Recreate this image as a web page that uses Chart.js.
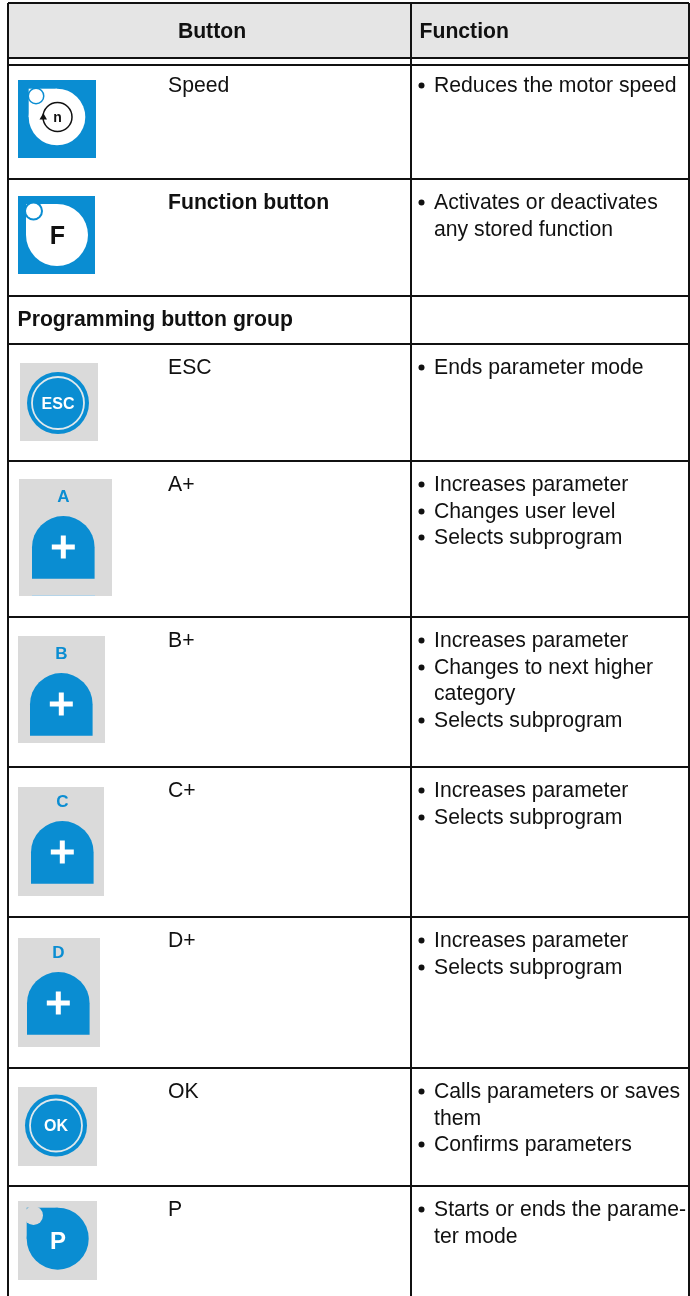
<!DOCTYPE html>
<html>
<head>
<meta charset="utf-8">
<script src="https://cdn.jsdelivr.net/npm/chart.js@4"></script>
<style>
    html, body { margin: 0; padding: 0; background: #fff; }
    canvas { display: block; }
</style>
</head>
<body>
<canvas id="table" width="690" height="1296"></canvas>
<script>
// table content
const headers = ['Button', 'Function'];
const buttons = ['Speed', 'Function button', 'Programming button group', 'ESC', 'A+', 'B+', 'C+', 'D+', 'OK', 'P'];
const functions = [
    ['• Reduces the motor speed'],
    ['• Activates or deactivates', '  any stored function'],
    [],
    ['• Ends parameter mode'],
    ['• Increases parameter', '• Changes user level', '• Selects subprogram'],
    ['• Increases parameter', '• Changes to next higher', '  category', '• Selects subprogram'],
    ['• Increases parameter', '• Selects subprogram'],
    ['• Increases parameter', '• Selects subprogram'],
    ['• Calls parameters or saves', '  them', '• Confirms parameters'],
    ['• Starts or ends the parame-', '  ter mode']
];
const columnLines = [8, 411, 689];
const rowLines = [3, 58, 65, 179, 296, 344, 461, 617, 767, 917, 1068, 1186];

const BLUE = '#0a8dd2';
const GREY = '#dadada';
const FONT = '"Liberation Sans", Arial, sans-serif';
const TEXT_SIZE = 21.2;

function text(ctx, str, x, y, size, bold, color, align) {
    ctx.font = `${bold ? 'bold ' : ''}${size}px ${FONT}`;
    ctx.fillStyle = color || '#111';
    ctx.textAlign = align || 'left';
    ctx.textBaseline = 'alphabetic';
    ctx.fillText(str, x, y);
}

function box(ctx, x1, y1, x2, y2, color) {
    ctx.fillStyle = color;
    ctx.fillRect(x1, y1, x2 - x1, y2 - y1);
}

function circle(ctx, x, y, r, color) {
    ctx.fillStyle = color;
    ctx.beginPath();
    ctx.arc(x, y, r, 0, Math.PI * 2);
    ctx.fill();
}

// round button with one square corner
function drop(ctx, x, y, r, color) {
    circle(ctx, x, y, r, color);
    ctx.fillRect(x - r, y - r, r, r);
}

function ringButton(ctx, x, y, label, size) {
    circle(ctx, x, y, 31, BLUE);
    ctx.strokeStyle = '#dfe8ec';
    ctx.lineWidth = 1.8;
    ctx.beginPath();
    ctx.arc(x, y, 26, 0, Math.PI * 2);
    ctx.stroke();
    text(ctx, label, x, y + size * 0.36, size, true, '#fff', 'center');
}

function plusButton(ctx, g, letter) {
    box(ctx, g.x1, g.y1, g.x2, g.y2, GREY);
    const r = 31.3, cx = g.dome + r, top = g.top;
    ctx.fillStyle = BLUE;
    ctx.beginPath();
    ctx.moveTo(cx - r, top + 62.7);
    ctx.lineTo(cx - r, top + r);
    ctx.arc(cx, top + r, r, Math.PI, 0);
    ctx.lineTo(cx + r, top + 62.7);
    ctx.closePath();
    ctx.fill();
    box(ctx, cx - 11.5, top + 28.5, cx + 11.5, top + 33.5, '#fff');
    box(ctx, cx - 2.5, top + 19.5, cx + 2.5, top + 42.5, '#fff');
    text(ctx, letter, cx, top - 14, 17, true, BLUE, 'center');
}

const tablePlugin = {
    id: 'tablePlugin',
    beforeDraw(chart) {
        const { ctx } = chart;
        box(ctx, 8, rowLines[0], 689, rowLines[1], '#e5e5e5');
    },
    afterDraw(chart) {
        const { ctx } = chart;
        const colX = [168, 434];

        // header
        text(ctx, headers[0], 212, 38, TEXT_SIZE, true, '#111', 'center');
        text(ctx, headers[1], 419.5, 38, TEXT_SIZE, true);

        // body rows, rowLines[2] is where they start
        buttons.forEach((label, i) => {
            const top = rowLines[i + 2];
            const base = top + (i === 0 ? 27 : 30);
            if (i === 1) {
                text(ctx, label, colX[0], base, TEXT_SIZE, true);
            } else if (i === 2) {
                text(ctx, label, 17.5, base, TEXT_SIZE, true);
            } else {
                text(ctx, label, colX[0], base, TEXT_SIZE, false);
            }
            functions[i].forEach((line, n) => {
                const y = Math.round(base + n * 26.6);
                if (line.startsWith('• ')) {
                    circle(ctx, 421.5, y - 6.5, 3, '#111');
                }
                text(ctx, line.slice(2), colX[1], y, TEXT_SIZE, false);
            });
        });

        // Speed
        box(ctx, 18, 80, 96, 158, BLUE);
        drop(ctx, 57, 117, 28.3, '#fff');
        circle(ctx, 36, 96, 8.5, BLUE);
        circle(ctx, 36, 96, 7, '#fff');
        ctx.strokeStyle = '#111';
        ctx.lineWidth = 1.5;
        ctx.beginPath();
        ctx.arc(57.5, 117, 14.5, 0, Math.PI * 2);
        ctx.stroke();
        ctx.fillStyle = '#111';
        ctx.beginPath();
        ctx.moveTo(43.3, 113);
        ctx.lineTo(47, 119.5);
        ctx.lineTo(39.5, 119.5);
        ctx.closePath();
        ctx.fill();
        text(ctx, 'n', 57.5, 122, 14, true, '#111', 'center');

        // Function
        box(ctx, 18, 196, 95, 274, BLUE);
        drop(ctx, 57, 235, 31, '#fff');
        circle(ctx, 33.5, 211, 9.5, BLUE);
        circle(ctx, 33.5, 211, 7.5, '#fff');
        text(ctx, 'F', 57.5, 244, 25, true, '#111', 'center');

        // ESC
        box(ctx, 20, 363, 98, 441, GREY);
        ringButton(ctx, 58, 403, 'ESC', 16);

        plusButton(ctx, { x1: 19, y1: 479, x2: 112, y2: 596, dome: 32, top: 516 }, 'A');
        box(ctx, 32, 595, 95, 596, '#b5d4e8');
        plusButton(ctx, { x1: 18, y1: 636, x2: 105, y2: 743, dome: 30, top: 673 }, 'B');
        plusButton(ctx, { x1: 18, y1: 787, x2: 104, y2: 896, dome: 31, top: 821 }, 'C');
        plusButton(ctx, { x1: 18, y1: 938, x2: 100, y2: 1047, dome: 27, top: 972 }, 'D');

        // OK
        box(ctx, 18, 1087, 97, 1166, GREY);
        ringButton(ctx, 56, 1125.5, 'OK', 16);

        // P
        box(ctx, 18, 1201, 97, 1280, GREY);
        drop(ctx, 57.7, 1238.7, 31, BLUE);
        circle(ctx, 33.5, 1215.5, 9.5, GREY);
        text(ctx, 'P', 58, 1249, 24, true, '#fff', 'center');
    }
};

new Chart(document.getElementById('table'), {
    type: 'scatter',
    data: { datasets: [{ data: [], pointRadius: 0 }] },
    plugins: [tablePlugin],
    options: {
        responsive: false,
        animation: false,
        layout: { padding: { left: columnLines[0], right: 690 - columnLines[2], top: rowLines[0], bottom: 0 } },
        plugins: { legend: { display: false }, tooltip: { enabled: false } },
        scales: {
            x: {
                type: 'linear',
                position: 'top',
                min: columnLines[0],
                max: columnLines[2],
                afterBuildTicks: (axis) => { axis.ticks = columnLines.map((value) => ({ value })); },
                ticks: { display: false },
                border: { display: false },
                grid: { color: '#111', lineWidth: 2, drawTicks: false }
            },
            y: {
                type: 'linear',
                reverse: true,
                min: rowLines[0],
                max: 1296,
                afterBuildTicks: (axis) => { axis.ticks = rowLines.map((value) => ({ value })); },
                ticks: { display: false },
                border: { display: false },
                grid: { color: '#111', lineWidth: 2, drawTicks: false }
            }
        }
    }
});
</script>
</body>
</html>
